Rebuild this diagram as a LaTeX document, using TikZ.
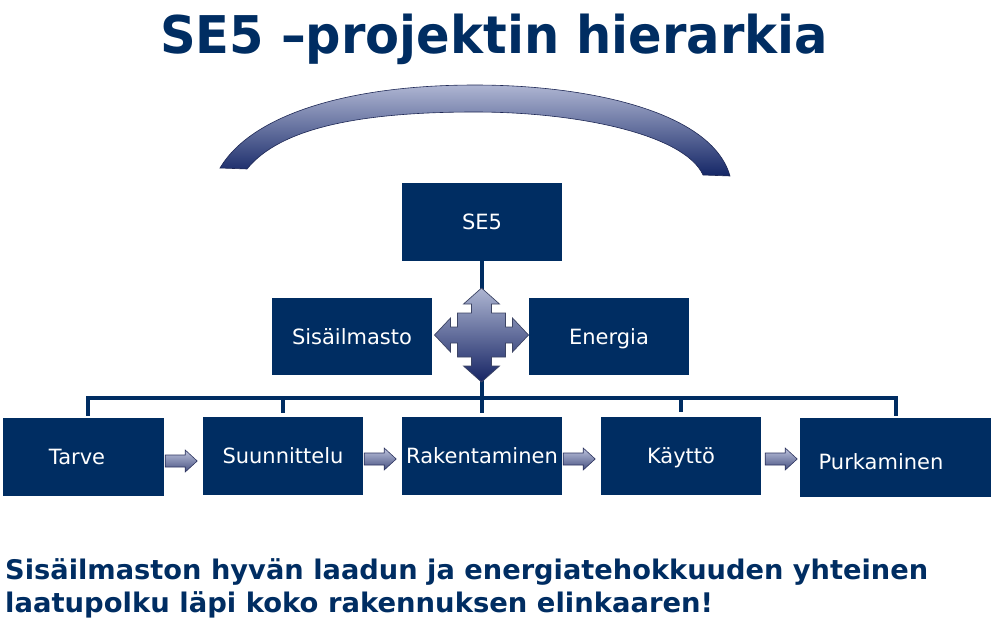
\documentclass[tikz,border=0pt]{standalone}
\usepackage{fontspec}
\setmainfont{DejaVu Sans}
\usetikzlibrary{calc}
\definecolor{navy}{RGB}{0,45,98}
\definecolor{arclight}{RGB}{174,181,210}
\definecolor{arcdark}{RGB}{20,38,102}
\definecolor{arcline}{RGB}{30,40,85}
\definecolor{qlight}{RGB}{174,182,210}
\definecolor{qdark}{RGB}{22,36,100}
\definecolor{qline}{RGB}{60,68,100}
\definecolor{flowlight}{RGB}{190,196,222}
\definecolor{flowdark}{RGB}{70,80,128}
\definecolor{flowline}{RGB}{45,52,95}
\newcommand\boxfont{\fontsize{21}{25}\selectfont}
\newcommand\flowarrow[1]{%
  \shade[flowsty, shift={(#1)}] (0,-6) -- (20,-6) -- (20,-11) -- (32,0) -- (20,11) -- (20,6) -- (0,6) -- cycle;}
\begin{document}
\begin{tikzpicture}[x=1pt,y=-1pt,
  box/.style={fill=navy, text=white, font=\boxfont, minimum width=160pt, minimum height=78pt, inner sep=0pt, text height=15.3pt, text depth=0pt},
  lab/.style={text=white, font=\boxfont, inner sep=0pt, text height=15.3pt, text depth=0pt},
  bus/.style={draw=navy, line width=3.5pt, line join=miter},
  flowsty/.style={top color=flowlight, bottom color=flowdark, draw=flowline, line width=0.6pt, line join=miter},
  heading/.style={text=navy, inner sep=0pt},
]
\useasboundingbox (0,0) rectangle (996,627);

% title
\node[heading, anchor=base] (title) at (494,53)
  {\resizebox{668pt}{\height}{\fontsize{52}{60}\selectfont\bfseries SE5 –projektin hierarkia}};

% arc
\shade[top color=arclight, bottom color=arcdark, draw=arcline, line width=0.6pt]
  (220,168) .. controls (252,114) and (350,85) .. (475,85)
  .. controls (590,85) and (712,112) .. (730,176)
  -- (703,175) .. controls (685,135) and (580,112) .. (475,112)
  .. controls (360,112) and (280,128) .. (247,169) -- cycle;

% boxes
\node[box] (se5) at (482,222) {SE5};
\node[box, minimum height=77pt] (sis) at (352,336.5) {Sisäilmasto};
\node[box, minimum height=77pt] (ene) at (609,336.5) {Energia};
\node[box, minimum width=161pt] (tarve) at (83.5,457) {};
\node[box] (suun) at (283,456) {Suunnittelu};
\node[box] (rak) at (482,456) {Rakentaminen};
\node[box] (kay) at (681,456) {Käyttö};
\node[box, minimum width=191pt, minimum height=79pt] (purk) at (895.5,457.5) {};
\node[lab] (tarvet) at (77,457) {Tarve};
\node[lab] (purkt) at (881,462) {Purkaminen};

% connectors
\coordinate (b1) at (88,398);
\coordinate (b5) at (896,398);
\draw[bus] ([yshift=2pt]b1 |- tarve.north) -- (b1) -- (b5) -- ([yshift=2pt]b5 |- purk.north);
\draw[bus] ([yshift=4pt]suun.north) -- (suun.north |- b1);
\draw[bus] ([yshift=5pt]kay.north) -- (kay.north |- b1);
\draw[bus] (se5.south) -- ([yshift=4pt]rak.north);

% quad arrow
\shade[top color=qlight, bottom color=qdark, draw=qline, line width=0.7pt, shift={(481.5,335)}]
  (0,-47) -- (18,-31) -- (10,-31) -- (10,-22) -- (24,-22) -- (24,-8) -- (31,-8) -- (31,-17) -- (47,0)
  -- (31,17) -- (31,8) -- (24,8) -- (24,22) -- (10,22) -- (10,31) -- (18,31) -- (0,47)
  -- (-18,31) -- (-10,31) -- (-10,22) -- (-24,22) -- (-24,8) -- (-31,8) -- (-31,17) -- (-47,0)
  -- (-31,-17) -- (-31,-8) -- (-24,-8) -- (-24,-22) -- (-10,-22) -- (-10,-31) -- (-18,-31) -- cycle;

% flow arrows
\coordinate (f1) at ($(tarve.east)+(1,4)$);
\coordinate (f2) at ($(suun.east)+(1,3)$);
\coordinate (f3) at ($(rak.east)+(1,3)$);
\coordinate (f4) at ($(kay.east)+(4,3)$);
\flowarrow{f1}
\flowarrow{f2}
\flowarrow{f3}
\flowarrow{f4}

% bottom text
\node[heading, anchor=base west] (line1) at (5,579)
  {\resizebox{923pt}{\height}{\fontsize{27}{32}\selectfont\bfseries Sisäilmaston hyvän laadun ja energiatehokkuuden yhteinen}};
\node[heading, anchor=base west] (line2) at (5,612)
  {\resizebox{708pt}{\height}{\fontsize{27}{32}\selectfont\bfseries laatupolku läpi koko rakennuksen elinkaaren!}};
\end{tikzpicture}
\end{document}
